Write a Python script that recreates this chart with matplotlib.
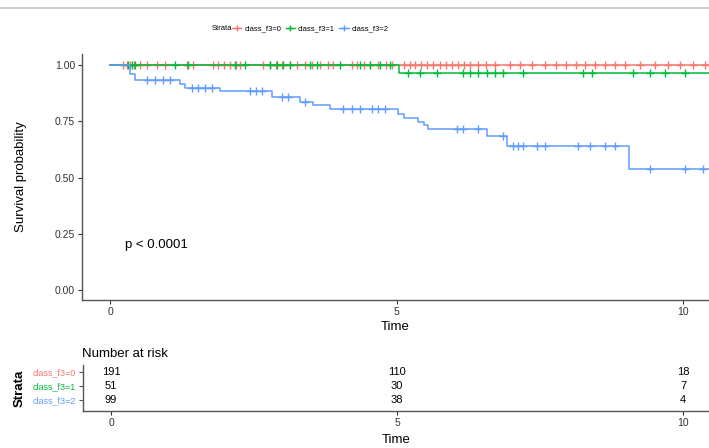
import numpy as np
import matplotlib
matplotlib.use("Agg")
import matplotlib.pyplot as plt
from matplotlib.lines import Line2D

plt.rcParams['font.family'] = ['Liberation Sans', 'DejaVu Sans']

# ---- data ----
strata = ['class_f3=0', 'class_f3=1', 'class_f3=2']
colors = ['#F8766D', '#00BA38', '#619CFF']
t_end = 10.5

# step times / survival after each step
f0_times = [0.0]
f0_surv = [1.0]
f1_times = [0.0, 5.04]
f1_surv = [1.0, 0.967]
f2_times = [0.0, 0.35, 0.43, 1.22, 1.30, 1.92, 2.82, 3.32, 3.54, 3.84,
            5.02, 5.12, 5.38, 5.48, 5.55, 6.57, 6.92, 9.06]
f2_surv = [1.0, 0.96, 0.935, 0.915, 0.897, 0.884, 0.857, 0.838, 0.824, 0.807,
           0.782, 0.767, 0.748, 0.733, 0.718, 0.685, 0.641, 0.537]

# censoring times
f0_cens = [0.23, 0.30, 0.35, 0.42, 0.52, 0.65, 0.82, 0.96, 1.34, 1.45, 1.80,
           1.88, 1.99, 2.09, 2.20, 2.27, 2.67, 2.79, 2.90, 3.00, 3.14, 3.26,
           3.40, 3.53, 3.66, 3.80, 3.89, 4.22, 4.31, 4.43, 4.54, 4.68, 4.82,
           4.92, 5.13, 5.24, 5.32, 5.43, 5.53, 5.64, 5.76, 5.86, 5.97, 6.07,
           6.18, 6.28, 6.42, 6.56, 6.72, 6.98, 7.16, 7.36, 7.59, 7.78, 7.96,
           8.13, 8.29, 8.46, 8.64, 8.81, 8.99, 9.25, 9.51, 9.74, 9.95, 10.17,
           10.38]
f1_cens = [0.31, 0.38, 0.44, 1.13, 1.36, 2.18, 2.36, 2.79, 2.91, 3.02, 3.14,
           3.49, 3.61, 4.01, 4.36, 4.54, 4.71, 4.89, 5.20, 5.41, 5.71, 6.16,
           6.28, 6.42, 6.58, 6.72, 6.86, 7.21, 8.25, 8.41, 9.13, 9.42, 9.69,
           10.03]
f2_cens = [0.65, 0.79, 0.92, 1.05, 1.43, 1.54, 1.66, 1.78, 2.44, 2.55, 2.65,
           3.00, 3.11, 3.40, 4.07, 4.22, 4.36, 4.57, 4.68, 4.80, 6.06, 6.16,
           6.42, 6.86, 7.03, 7.12, 7.21, 7.45, 7.59, 8.17, 8.38, 8.64, 8.81,
           9.42, 10.03, 10.35]

risk_times = [0, 5, 10]
risk_f0 = [191, 110, 18]
risk_f1 = [51, 30, 7]
risk_f2 = [99, 38, 4]

curves = [(f0_times, f0_surv, f0_cens),
          (f1_times, f1_surv, f1_cens),
          (f2_times, f2_surv, f2_cens)]
risks = [risk_f0, risk_f1, risk_f2]

W, H = 709, 448
fig = plt.figure(figsize=(W / 100, H / 100), dpi=100)
txt = '#333333'

# top grey rule
fig.add_artist(Line2D([0, 1], [1 - 8 / H, 1 - 8 / H], color='#c8c8c8', lw=1.2))

# ---- main survival plot ----
ax = fig.add_axes([82 / W, 1 - 300 / H, 1 - 82 / W, (300 - 54) / H])
for (tt, ss, cc), col in zip(curves, colors):
    x = list(tt) + [t_end]
    y = list(ss) + [ss[-1]]
    ax.step(x, y, where='post', color=col, lw=1.1)
    idx = np.searchsorted(tt, cc, side='right') - 1
    ax.plot(cc, np.array(ss)[idx], ls='none', marker='+', color=col,
            markersize=6, mew=1.0)

ax.set_xlim(-0.49, 10.45)
ax.set_ylim(-0.045, 1.05)
ax.set_xticks([0, 5, 10])
ax.set_yticks([0, 0.25, 0.5, 0.75, 1.0])
ax.set_yticklabels(['0.00', '0.25', '0.50', '0.75', '1.00'])
ax.tick_params(labelsize=7.5, colors=txt, length=3, width=0.8, pad=2)
ax.set_xlabel('Time', fontsize=9.5, labelpad=3)
ax.set_ylabel('Survival probability', fontsize=9.5, labelpad=20)
for s in ['top', 'right']:
    ax.spines[s].set_visible(False)
for s in ['left', 'bottom']:
    ax.spines[s].set_color('#555555')
    ax.spines[s].set_linewidth(1.0)
ax.text(0.26, 0.20, 'p < 0.0001', fontsize=9.5, ha='left', va='center')

# legend on top
fig.text(212 / W, 1 - 29 / H, 'Strata', fontsize=5.5, va='center', ha='left')
handles = [Line2D([], [], color=c, marker='+', lw=1.0, markersize=4)
           for c in colors]
fig.legend(handles, strata, loc='center left', ncol=3, frameon=False,
           bbox_to_anchor=(232 / W, 1 - 29 / H), fontsize=5.5,
           handlelength=1.2, handletextpad=0.4, columnspacing=0.6,
           borderaxespad=0, borderpad=0)

# ---- risk table ----
rx = fig.add_axes([83 / W, 1 - 411 / H, 1 - 83 / W, 46 / H])
rows = [3, 2, 1]
for r, vals in zip(rows, risks):
    for t, v in zip(risk_times, vals):
        rx.text(t, r, str(v), ha='center', va='center', fontsize=8)
rx.set_xlim(-0.49, 10.45)
rx.set_ylim(0.214, 3.5)
rx.set_xticks([0, 5, 10])
rx.set_yticks(rows)
rx.set_yticklabels(strata)
rx.tick_params(axis='x', labelsize=7.5, colors=txt, length=3, width=0.8, pad=2)
rx.tick_params(axis='y', length=3, width=0.8, pad=2, colors='#555555')
for lab, col in zip(rx.get_yticklabels(), colors):
    lab.set_color(col)
    lab.set_fontsize(6.5)
rx.set_xlabel('Time', fontsize=9.5, labelpad=4)
rx.set_ylabel('Strata', fontsize=9.5, fontweight='bold', labelpad=5)
for s in ['top', 'right']:
    rx.spines[s].set_visible(False)
for s in ['left', 'bottom']:
    rx.spines[s].set_color('#555555')
    rx.spines[s].set_linewidth(1.0)
rx.set_title('Number at risk', fontsize=9.5, loc='left', pad=6, x=-0.002)

fig.savefig('out.png', dpi=100)
